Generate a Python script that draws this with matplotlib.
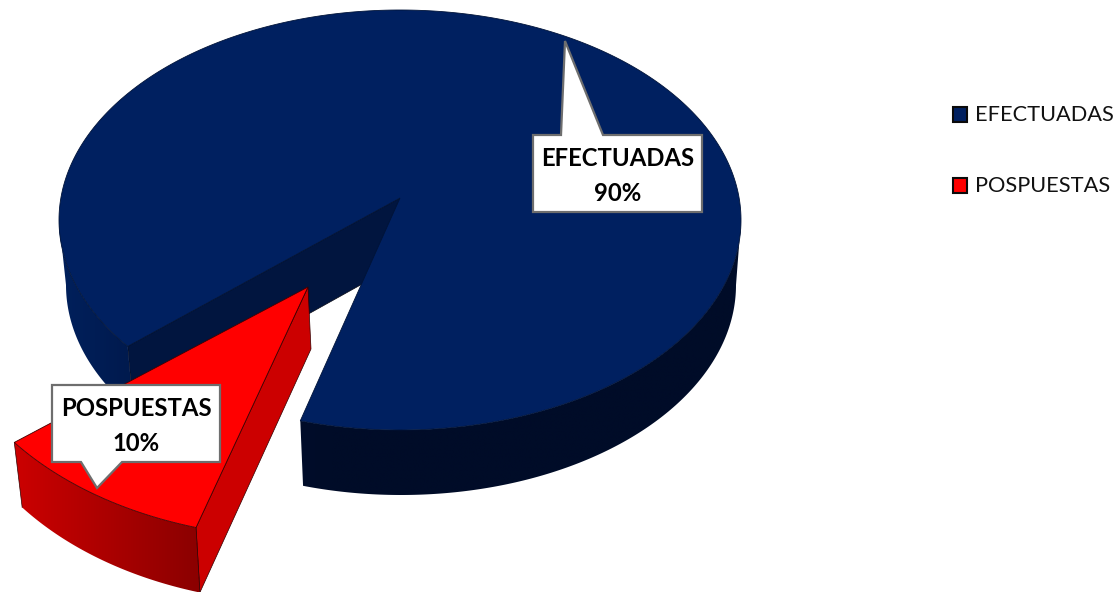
import numpy as np
import matplotlib
matplotlib.use("Agg")
import matplotlib.pyplot as plt
from matplotlib.patches import Polygon, Rectangle
from matplotlib.colors import LinearSegmentedColormap

categories = ["EFECTUADAS", "POSPUESTAS"]
values = [90, 10]
colors = ["#002060", "#FF0000"]

plt.rcParams["font.family"] = ["Lato", "DejaVu Sans"]
W, H = 1119, 592
fig = plt.figure(figsize=(W / 100, H / 100), dpi=100)
ax = fig.add_axes([0, 0, 1, 1])
ax.set_xlim(0, W)
ax.set_ylim(H, 0)
ax.axis("off")

total = sum(values)
start = 17.0                       # degrees clockwise from the front of the pie
sweep_red = 360 * values[1] / total
sweep_blue = 360 * values[0] / total


def rim(t, e):
    t = np.radians(t)
    return np.column_stack([e[0] - e[2] * np.sin(t), e[1] + e[3] * np.cos(t)])


BLUE_TOP = (400, 220, 341, 210)
BLUE_LOW = (401, 285, 335, 210)
BLUE_APEX = (400, 198)
BLUE_APEX_LOW = (400, 263)
RED_TOP = (301, 298, 359, 240)
RED_LOW = (302.5, 363, 351, 240)
RED_APEX = (308, 287)
RED_APEX_LOW = (311, 349)
LINE = "#0a0a14"


def side(t0, t1, etop, elow, cmap, x0, x1, z):
    ts = np.linspace(t0, t1, 160)
    a, b = rim(ts, etop), rim(ts, elow)
    outline = np.vstack([a, b[::-1]])
    patch = Polygon(outline, closed=True, fc="none", ec="none", zorder=z)
    ax.add_patch(patch)
    xa, xb = outline[:, 0].min(), outline[:, 0].max()
    ya, yb = outline[:, 1].min(), outline[:, 1].max()
    g = np.clip((np.linspace(xa, xb, 512) - x0) / (x1 - x0), 0, 1)[None, :]
    im = ax.imshow(g, extent=(xa, xb, yb, ya), cmap=cmap, vmin=0, vmax=1,
                   aspect="auto", interpolation="bilinear", zorder=z)
    im.set_clip_path(patch)
    ax.set_xlim(0, W)
    ax.set_ylim(H, 0)


blue_cmap = LinearSegmentedColormap.from_list(
    "b", ["#00205c", "#001a4e", "#011544", "#000d2c", "#000c28", "#000c28"])
red_cmap = LinearSegmentedColormap.from_list("r", ["#cc0000", "#8c0000"])

# main slice: cut wall, outer wall, top
p_end = rim(start + sweep_red, BLUE_TOP)[0]
p_end_low = rim(start + sweep_red, BLUE_LOW)[0]
ax.add_patch(Polygon([BLUE_APEX, p_end, p_end_low, BLUE_APEX_LOW], fc="#01153f",
                     ec=LINE, lw=0.5, zorder=1))
side(start + sweep_red, 90, BLUE_TOP, BLUE_LOW, blue_cmap, 60, 400, 2)
side(-90, start, BLUE_TOP, BLUE_LOW, blue_cmap, 60, 400, 2)
ts = np.linspace(start + sweep_red, start + sweep_red + sweep_blue, 360)
top = np.vstack([[BLUE_APEX], rim(ts, BLUE_TOP)])
ax.add_patch(Polygon(top, fc=colors[0], ec="#001338", lw=0.6, zorder=3))

# exploded slice
r0 = rim(start, RED_TOP)[0]
r0_low = rim(start, RED_LOW)[0]
ax.add_patch(Polygon([RED_APEX, r0, r0_low, RED_APEX_LOW], fc="#cc0000",
                     ec="#300000", lw=0.5, zorder=4))
side(start + sweep_red, start, RED_TOP, RED_LOW, red_cmap, 14, 196, 4)
ax.plot([r0[0], r0_low[0]], [r0[1], r0_low[1]], color="#300000", lw=0.5, zorder=4.5)
e = rim(start + sweep_red, RED_TOP)[0]
e2 = rim(start + sweep_red, RED_LOW)[0]
ax.plot([e[0], e2[0]], [e[1], e2[1]], color="#300000", lw=0.5, zorder=4.5)
ts = np.linspace(start, start + sweep_red, 60)
ax.add_patch(Polygon(np.vstack([[RED_APEX], rim(ts, RED_TOP)]), fc=colors[1],
                     ec="#400000", lw=0.6, zorder=5))

# callouts
callout_blue = [(533, 135), (561, 135), (565, 41), (603, 135), (702, 135), (702, 212), (533, 212)]
callout_red = [(52, 385), (220, 385), (220, 462), (122, 462), (97, 488), (81, 462), (52, 462)]
for pts in (callout_blue, callout_red):
    ax.add_patch(Polygon(pts, fc="white", ec="#6e6e6e", lw=1.6, joinstyle="miter", zorder=6))
ax.text(617.5, 176, f"{categories[0]}\n{values[0]}%", ha="center", va="center",
        fontsize=17.2, fontweight="bold", color="black", linespacing=1.65, zorder=7)
ax.text(136.5, 426, f"{categories[1]}\n{values[1]}%", ha="center", va="center",
        fontsize=17.2, fontweight="bold", color="black", linespacing=1.65, zorder=7)

# legend
for y, name, col in zip((107, 178), categories, colors):
    ax.add_patch(Rectangle((952.5, y), 14, 14.5, fc=col, ec="#0a0a0a", lw=1.5, zorder=7))
    ax.text(975, y + 8, name, ha="left", va="center", fontsize=15.7, color="#111111", zorder=7)

fig.savefig("out.png", dpi=100, facecolor="white")
